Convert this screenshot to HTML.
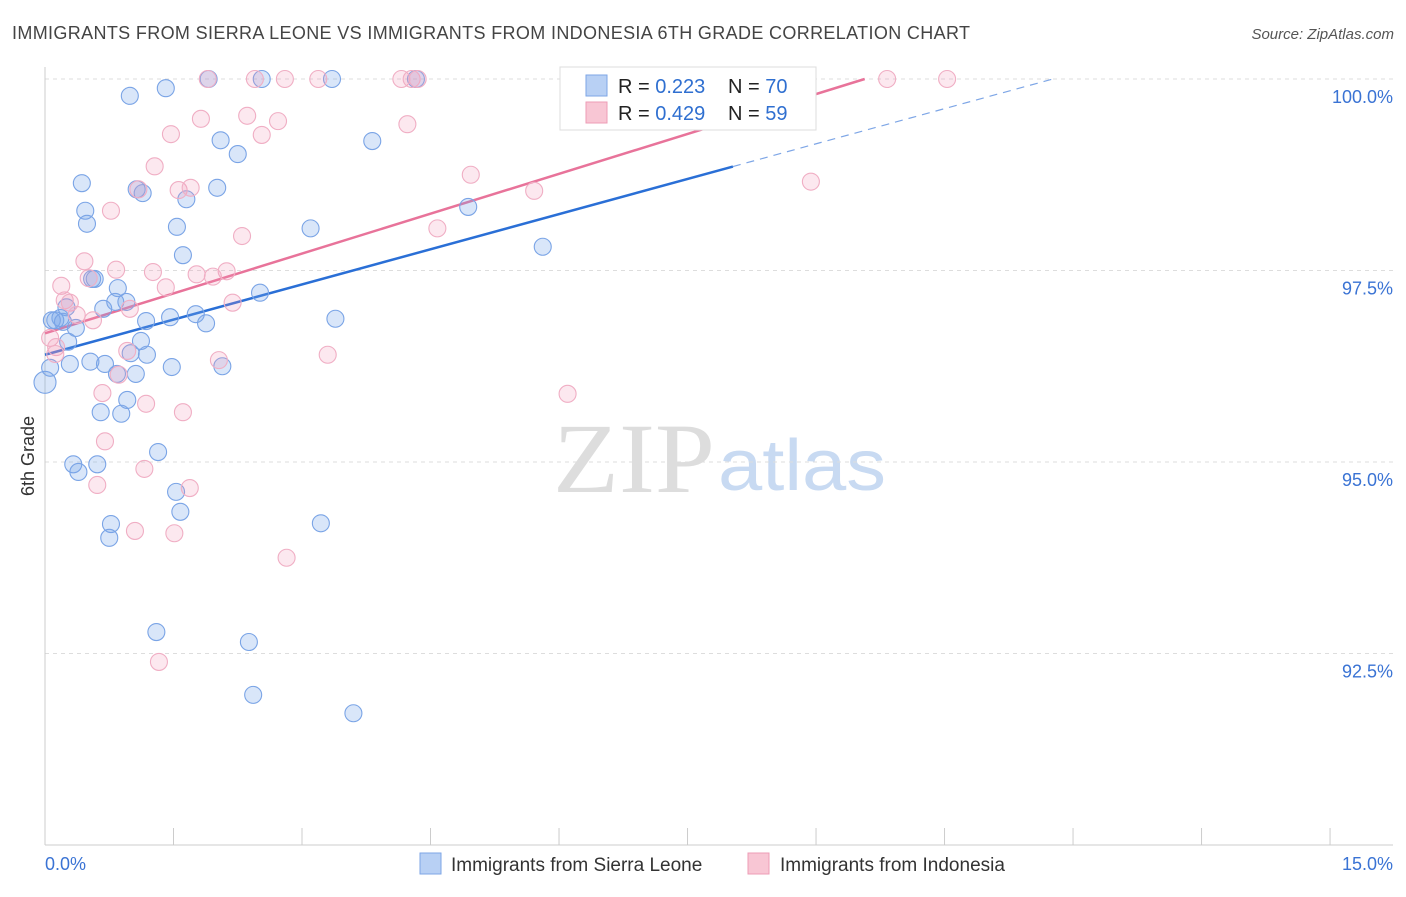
<!DOCTYPE html>
<html><head><meta charset="utf-8"><style>
body{margin:0;background:#fff;font-family:"Liberation Sans",sans-serif;}
</style></head><body>
<svg id="chart" width="1406" height="892" viewBox="0 0 1406 892" xmlns="http://www.w3.org/2000/svg" font-family="Liberation Sans, sans-serif">
<text x="12" y="39" font-size="18" fill="#444" textLength="958" lengthAdjust="spacing">IMMIGRANTS FROM SIERRA LEONE VS IMMIGRANTS FROM INDONESIA 6TH GRADE CORRELATION CHART</text>
<text x="1394" y="39" font-size="15" fill="#555" text-anchor="end" font-style="italic">Source: ZipAtlas.com</text>
<text transform="translate(34,456) rotate(-90)" font-size="18" fill="#333" text-anchor="middle">6th Grade</text>
<g><text x="553" y="492" font-size="100" fill="#ddd" font-family="Liberation Serif, serif" textLength="162" lengthAdjust="spacingAndGlyphs">ZIP</text><text x="718" y="490" font-size="72" fill="#c8daf2" textLength="168" lengthAdjust="spacingAndGlyphs">atlas</text></g>
<g id="grid"></g><g id="axes"></g><g id="lines"></g><g id="pts"></g>
<g>
<rect x="560" y="67" width="256" height="63" fill="#fff" stroke="#ddd"/>
<rect x="586" y="75" width="21" height="21" fill="#b8d0f4" stroke="#7ea6e6"/>
<rect x="586" y="102" width="21" height="21" fill="#f8c6d4" stroke="#ee9cb6"/>
<text x="618" y="93" font-size="20" fill="#222">R = <tspan fill="#2f6fd0">0.223</tspan><tspan x="728">N = </tspan><tspan fill="#2f6fd0">70</tspan></text>
<text x="618" y="120" font-size="20" fill="#222">R = <tspan fill="#2f6fd0">0.429</tspan><tspan x="728">N = </tspan><tspan fill="#2f6fd0">59</tspan></text>
</g>
<g>
<rect x="420" y="853" width="21" height="21" fill="#b8d0f4" stroke="#7ea6e6"/>
<text x="451" y="871" font-size="19" fill="#333">Immigrants from Sierra Leone</text>
<rect x="748" y="853" width="21" height="21" fill="#f8c6d4" stroke="#ee9cb6"/>
<text x="780" y="871" font-size="19" fill="#333">Immigrants from Indonesia</text>
</g>
</svg>
<script>
const blueX=[0.00,0.99,1.41,1.91,2.53,3.35,4.33,0.43,0.47,0.49,1.07,1.14,1.65,2.01,2.05,2.25,3.82,4.94,5.81,3.10,1.54,1.61,0.55,0.58,0.85,0.68,0.82,0.95,0.25,0.12,0.18,0.21,0.36,0.27,1.18,1.46,1.76,1.88,2.51,3.39,1.12,1.00,1.19,0.53,0.29,0.70,0.84,1.06,1.48,2.07,0.06,0.96,0.65,0.89,1.32,0.33,0.61,0.39,1.53,1.58,0.77,0.75,3.22,1.30,2.38,2.43,3.60,6.20,0.08];
const blueY=[96.04,99.78,99.88,100,100,100,100,98.64,98.28,98.11,98.56,98.51,98.43,98.58,99.20,99.02,99.19,98.33,97.81,98.05,98.07,97.70,97.39,97.39,97.27,97.00,97.09,97.09,97.02,96.85,96.88,96.83,96.75,96.57,96.84,96.89,96.93,96.81,97.21,96.87,96.58,96.42,96.40,96.31,96.28,96.28,96.15,96.15,96.24,96.25,96.23,95.81,95.65,95.63,95.13,94.97,94.97,94.87,94.61,94.35,94.19,94.01,94.20,92.78,92.65,91.96,91.72,99.54,96.85];
const pinkX=[1.90,2.45,2.80,3.19,4.16,4.28,4.35,9.83,10.53,2.36,2.72,1.82,1.47,2.53,4.23,1.28,4.97,5.71,8.94,1.09,0.77,1.56,1.70,2.30,4.58,0.46,0.83,1.26,1.77,2.12,1.96,1.41,0.19,0.51,0.23,0.29,2.19,0.99,0.37,0.56,0.06,0.13,0.12,0.96,2.03,3.30,0.86,0.67,1.18,1.61,6.10,0.70,1.16,0.61,1.69,1.05,1.51,2.82,1.33];
const pinkY=[100,100,100,100,100,100,100,100,100,99.52,99.45,99.48,99.28,99.27,99.41,98.86,98.75,98.54,98.66,98.56,98.28,98.55,98.58,97.95,98.05,97.62,97.51,97.48,97.45,97.49,97.42,97.28,97.30,97.40,97.11,97.08,97.08,97.00,96.92,96.85,96.62,96.50,96.41,96.45,96.33,96.40,96.14,95.90,95.76,95.65,95.89,95.27,94.91,94.70,94.66,94.10,94.07,93.75,92.39];
const yTicks=[100,97.5,95,92.5];
const yTickLabels=["100.0%","97.5%","95.0%","92.5%"];
const blueTrend=[96.40,0.306]; // intercept, slope
const pinkTrend=[96.68,0.347];
const NS="http://www.w3.org/2000/svg";
const sx=v=>45+v*85.67, sy=v=>79+(100-v)*76.6;
function mk(tag,attrs,parent){const e=document.createElementNS(NS,tag);for(const k in attrs)e.setAttribute(k,attrs[k]);document.getElementById(parent).appendChild(e);return e;}
yTicks.forEach((t,i)=>{
 const g=mk('line',{x1:45,x2:1393,y1:sy(t),y2:sy(t),stroke:'#ddd','stroke-dasharray':'4,4'},'grid');
 
 
 const l=mk('text',{x:1393,y:sy(t)+24,'font-size':18,fill:'#3a73d4','text-anchor':'end'},'axes');
 l.textContent=yTickLabels[i];
 
 
});
mk('line',{x1:45,x2:45,y1:67,y2:845,stroke:'#ccc'},'axes');
mk('line',{x1:45,x2:1393,y1:845,y2:845,stroke:'#ccc'},'axes');
for(let i=0;i<=10;i++){mk('line',{x1:sx(i*1.5),x2:sx(i*1.5),y1:828,y2:845,stroke:'#ccc'},'axes');}
const xl=mk('text',{x:45,y:870,'font-size':18,fill:'#3a73d4'},'axes');xl.textContent='0.0%';


const xr=mk('text',{x:1393,y:870,'font-size':18,fill:'#3a73d4','text-anchor':'end'},'axes');xr.textContent='15.0%';


function pts(X,Y,fill,stroke,name){X.forEach((x,i)=>{const c=mk('circle',{cx:sx(x),cy:sy(Y[i]),r:(i===0&&name==='blue-point')?11:8.5,fill:fill,stroke:stroke,'stroke-width':1.1},'pts');
 
 });}
pts(blueX,blueY,'rgba(120,165,235,0.28)','#7aa4e6','blue-point');
pts(pinkX,pinkY,'rgba(242,150,180,0.22)','#f0aec4','pink-point');
const bEnd=8.03, bDashEnd=(100-blueTrend[0])/blueTrend[1];
const bl=mk('line',{x1:sx(0),y1:sy(blueTrend[0]),x2:sx(bEnd),y2:sy(blueTrend[0]+blueTrend[1]*bEnd),stroke:'#2a6fd6','stroke-width':2.5},'lines');


const bd=mk('line',{x1:sx(bEnd),y1:sy(blueTrend[0]+blueTrend[1]*bEnd),x2:sx(bDashEnd),y2:sy(100),stroke:'#7ea6e6','stroke-width':1.2,'stroke-dasharray':'8,6'},'lines');


const pEnd=(100-pinkTrend[0])/pinkTrend[1];
const pl=mk('line',{x1:sx(0),y1:sy(pinkTrend[0]),x2:sx(pEnd),y2:sy(100),stroke:'#e8739a','stroke-width':2.5},'lines');


</script>
</body></html>
